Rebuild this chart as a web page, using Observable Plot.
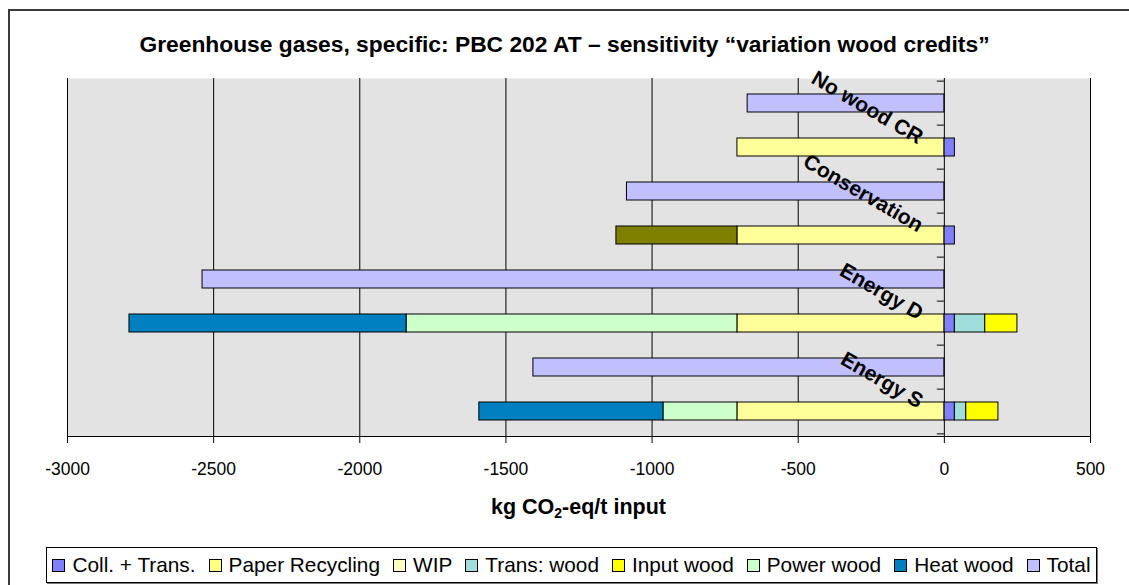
<!DOCTYPE html>
<html>
<head>
<meta charset="utf-8">
<script src="https://cdn.jsdelivr.net/npm/d3@7"></script>
<script src="https://cdn.jsdelivr.net/npm/@observablehq/plot@0.6"></script>
<style>
  body { margin: 0; background: #fff; font-family: "Liberation Sans", Arial, sans-serif; }
  #wrap { position: relative; width: 1129px; height: 585px; overflow: hidden; background: #fff; }
  #border { position: absolute; left: 8px; top: 9px; width: 1140px; height: 600px; border: 2px solid #3a3a3a; box-sizing: border-box; }
  #chart { position: absolute; left: 0; top: 0; }
  #title { position: absolute; left: 0; width: 1129px; top: 31px; text-align: center; font-weight: bold; font-size: 22.8px; color: #000; white-space: nowrap; }
  #xlabel { position: absolute; left: 67px; width: 1023px; top: 495px; text-align: center; font-weight: bold; font-size: 21.5px; color: #000; }
  #xlabel sub { font-size: 14px; vertical-align: -4px; line-height: 0; }
  #legend { position: absolute; left: 46px; top: 547px; width: 1051px; height: 36px; border: 1px solid #000; box-shadow: 1px 1px 0 #777; box-sizing: border-box; display: flex; align-items: center; justify-content: center; font-size: 20.8px; color: #000; background: #fff; }
  .item { display: flex; align-items: center; margin: 0 6.5px; white-space: nowrap; }
  .sw { width: 11px; height: 11px; border: 1px solid #000; margin-right: 7px; }
</style>
</head>
<body>
<div id="wrap">
  <div id="chart"></div>
  <div id="border"></div>
  <div id="title">Greenhouse gases, specific: PBC 202 AT – sensitivity “variation wood credits”</div>
  <div id="xlabel">kg CO<sub>2</sub>-eq/t input</div>
  <div id="legend"></div>
</div>
<script>
// ---- data ----
const scenarios = ["No wood CR", "Conservation", "Energy D", "Energy S"];
const seriesNames = ["Coll. + Trans.", "Paper Recycling", "WIP", "Trans: wood", "Input wood", "Power wood", "Heat wood", "Wood credit", "Total"];
const seriesColors = ["#8080FF", "#FFFF99", "#FFFFC8", "#A0DEDE", "#FFFF00", "#CCFFCC", "#0080C0", "#808000", "#C0C0FF"];
const legendNames = ["Coll. + Trans.", "Paper Recycling", "WIP", "Trans: wood", "Input wood", "Power wood", "Heat wood", "Total"];
const legendColors = ["#8080FF", "#FFFF80", "#FFFFC0", "#A0DEDE", "#FFFF00", "#CCFFCC", "#0080C0", "#C0C0FF"];

const collTrans      = [36, 36, 36, 36];
const paperRecycling = [-708, -708, -708, -708];
const wip            = [0, 0, 0, 0];
const transWood      = [0, 0, 104, 39];
const inputWood      = [0, 0, 110, 110];
const powerWood      = [0, 0, -1132, -253];
const heatWood       = [0, 0, -948, -630];
const woodCredit     = [0, -414, 0, 0];
const totalValues    = [-673, -1086, -2538, -1406];

const xTicks = [-3000, -2500, -2000, -1500, -1000, -500, 0, 500];

// ---- build table ----
const componentSeries = [collTrans, paperRecycling, wip, transWood, inputWood, powerWood, heatWood, woodCredit];
const rowDomain = scenarios.flatMap(s => [s + "|total", s + "|parts"]);
const records = [];
scenarios.forEach((s, i) => {
  records.push({row: s + "|total", series: "Total", value: totalValues[i]});
  componentSeries.forEach((arr, k) => {
    if (arr[i] !== 0) records.push({row: s + "|parts", series: seriesNames[k], value: arr[i]});
  });
});

const W = 1129, H = 585, mL = 67, mR = 39, mT = 78, mB = 149;
const step = (H - mT - mB) / rowDomain.length;

const chart = Plot.plot({
  width: W, height: H,
  marginLeft: mL, marginRight: mR, marginTop: mT, marginBottom: mB,
  style: {background: "transparent", fontFamily: "Liberation Sans, Arial, sans-serif", overflow: "visible"},
  x: {domain: [-3000, 500]},
  y: {domain: rowDomain, paddingInner: 0.6, paddingOuter: 0.3, axis: null},
  color: {domain: seriesNames, range: seriesColors},
  marks: [
    Plot.frame({fill: "#E3E3E3", stroke: null}),
    Plot.ruleX(xTicks, {stroke: "#000", strokeWidth: 1}),
    Plot.frame({anchor: "bottom", stroke: "#000", strokeWidth: 1}),
    Plot.barX(records, Plot.stackX({x: "value", y: "row", fill: "series", stroke: "#000", strokeWidth: 1, order: seriesNames})),
    Plot.ruleY(rowDomain, {y: d => d, x1: -24, x2: 0, dy: -step / 2, stroke: "#000"}),
    Plot.ruleY([rowDomain[rowDomain.length - 1]], {y: d => d, x1: -24, x2: 0, dy: step / 2, stroke: "#000"}),
    Plot.axisX({ticks: xTicks, tickSize: 7, tickPadding: 19, fontSize: 17.5, tickFormat: d => String(d), label: null, stroke: "#000"}),
    Plot.text(scenarios, {x: () => 0, y: s => s + "|total", text: d => d, dx: -23, dy: step / 2 + 13, rotate: 30, textAnchor: "end", fontWeight: "bold", fontSize: 21, fill: "#000"})
  ]
});
document.getElementById("chart").appendChild(chart);

// ---- legend ----
const legend = document.getElementById("legend");
legendNames.forEach((n, i) => {
  const it = document.createElement("div");
  it.className = "item";
  const sw = document.createElement("span");
  sw.className = "sw";
  sw.style.background = legendColors[i];
  const tx = document.createElement("span");
  tx.textContent = n;
  it.appendChild(sw); it.appendChild(tx);
  legend.appendChild(it);
});
</script>
</body>
</html>
